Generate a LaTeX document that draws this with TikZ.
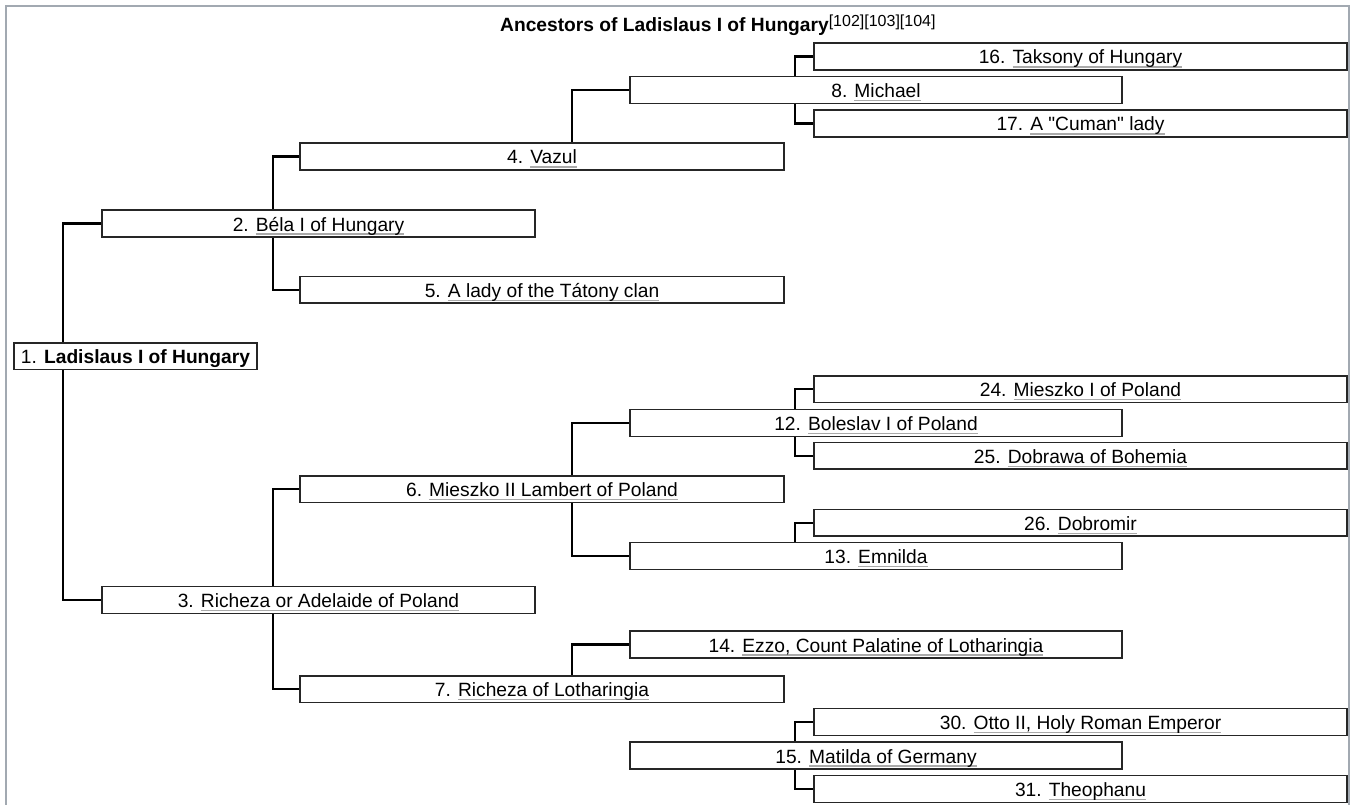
\documentclass[tikz,border=0pt]{standalone}
\usepackage{fontspec}
\setmainfont{Liberation Sans}[Ligatures=TeXOff]
\usetikzlibrary{backgrounds,calc}
\definecolor{linkgray}{RGB}{170,170,170}
\definecolor{framegray}{RGB}{162,169,177}
\newcommand\wlink[1]{\setbox0=\hbox{#1}\rlap{\textcolor{linkgray}{\rule[-3.6pt]{\wd0}{1.2pt}}}\box0}
\begin{document}
\begin{tikzpicture}[x=1pt,y=-1pt,
  pbox/.style={draw=black!85, line width=1.4pt, fill=white, minimum height=26.7pt,
    inner sep=0pt, text height=16pt, text depth=1pt, font=\fontsize{19.2}{22}\selectfont},
  lvone/.style={pbox, minimum width=243pt},
  lvtwo/.style={pbox, minimum width=433pt},
  lvthree/.style={pbox, minimum width=484pt},
  lvfour/.style={pbox, minimum width=492pt},
  lvfive/.style={pbox, minimum width=533pt},
  conn/.style={line width=2.2pt, black}]
\useasboundingbox (0,0) rectangle (1354,805);
\draw[framegray, line width=1.2pt] (6,805) -- (6,6) -- (1349,6) -- (1349,805);

\node[anchor=base west, inner sep=0pt, font=\bfseries\fontsize{19.2}{22}\selectfont] (title) at (500,32)
  {Ancestors of Ladislaus I of Hungary\raisebox{5.5pt}{\mdseries\fontsize{16}{16}\selectfont[102][103][104]}};

\node[lvone] (b1) at (135.5,356.3) {1. \textbf{Ladislaus I of Hungary}};
\node[lvtwo] (b2) at (318.5,223.5) {2. \wlink{Béla I of Hungary}};
\node[lvtwo] (b3) at (318.5,600) {3. \wlink{Richeza or Adelaide of Poland}};
\node[lvthree] (b4) at (542,156.5) {4. \wlink{Vazul}};
\node[lvthree] (b5) at (542,289.7) {5. \wlink{A lady of the Tátony clan}};
\node[lvthree] (b6) at (542,489.3) {6. \wlink{Mieszko II Lambert of Poland}};
\node[lvthree] (b7) at (542,689.3) {7. \wlink{Richeza of Lotharingia}};
\node[lvfour] (b8) at (876,90) {8. \wlink{Michael}};
\node[lvfour] (b12) at (876,423) {12. \wlink{Boleslav I of Poland}};
\node[lvfour] (b13) at (876,556) {13. \wlink{Emnilda}};
\node[lvfour] (b14) at (876,644.5) {14. \wlink{Ezzo, Count Palatine of Lotharingia}};
\node[lvfour] (b15) at (876,755.5) {15. \wlink{Matilda of Germany}};
\node[lvfive] (b16) at (1080.5,56.5) {16. \wlink{Taksony of Hungary}};
\node[lvfive] (b17) at (1080.5,123.5) {17. \wlink{A "Cuman" lady}};
\node[lvfive] (b24) at (1080.5,389.3) {24. \wlink{Mieszko I of Poland}};
\node[lvfive] (b25) at (1080.5,455.7) {25. \wlink{Dobrawa of Bohemia}};
\node[lvfive] (b26) at (1080.5,522.7) {26. \wlink{Dobromir}};
\node[lvfive] (b30) at (1080.5,722) {30. \wlink{Otto II, Holy Roman Emperor}};
\node[lvfive] (b31) at (1080.5,789) {31. \wlink{Theophanu}};

\begin{scope}[on background layer]
\draw[conn] (b2.west) -- ++(-38,0) |- (b3.west);
\draw[conn] (b4.west) -- ++(-26,0) |- (b5.west);
\draw[conn] (b6.west) -- ++(-26,0) |- (b7.west);
\draw[conn] (b8.west) -- ++(-57,0) coordinate (t4) -- (t4 |- b4.north);
\draw[conn] (b12.west) -- ++(-57,0) |- (b13.west);
\draw[conn] (b14.west) -- ++(-57,0) coordinate (t7) -- (t7 |- b7.north);
\draw[conn] (b16.west) -- ++(-18,0) |- (b17.west);
\draw[conn] (b24.west) -- ++(-18,0) |- (b25.west);
\draw[conn] (b26.west) -- ++(-18,0) coordinate (t13) -- (t13 |- b13.north);
\draw[conn] (b30.west) -- ++(-18,0) |- (b31.west);
\end{scope}
\end{tikzpicture}
\end{document}
